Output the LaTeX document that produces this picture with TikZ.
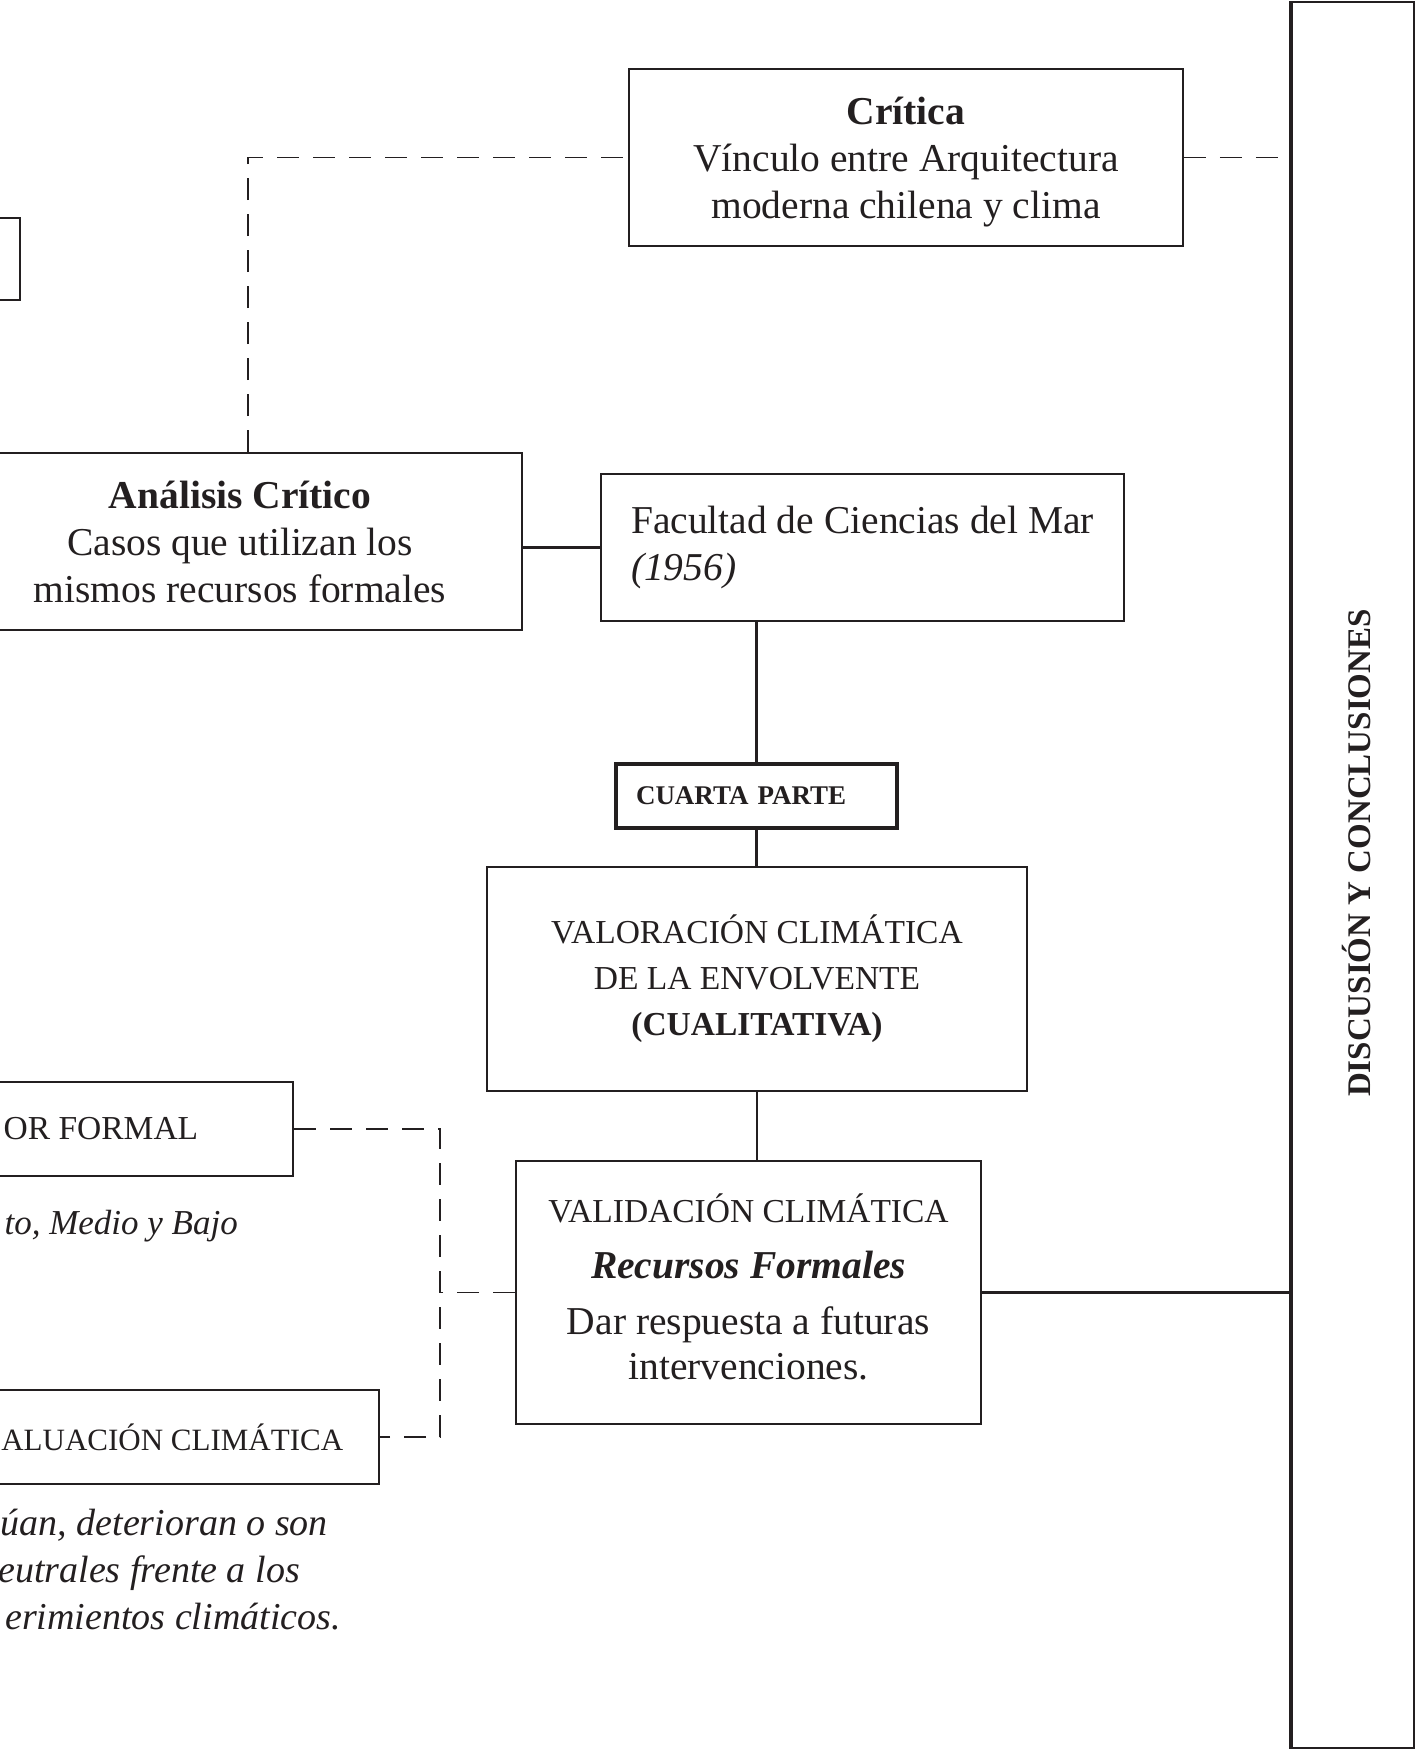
\documentclass[tikz,border=0pt]{standalone}
\usepackage{fontspec}
\setmainfont{Liberation Serif}
\definecolor{tinta}{HTML}{231F20}

\begin{document}
\begin{tikzpicture}[x=1pt,y=-1pt,
  caja/.style={draw=tinta,line width=1.6pt,text=tinta,inner sep=0pt,align=center,font=\fontsize{39.5}{47}\selectfont},
  mayus/.style={font=\fontsize{33.5}{46}\selectfont},
  unir/.style={draw=tinta,line width=2.6pt},
  guion/.style={draw=tinta,line width=1.5pt,dash pattern=on 22pt off 14pt},
  nota/.style={text=tinta,anchor=base east,inner sep=0pt,font=\fontsize{38}{47}\selectfont\itshape}]
\useasboundingbox (0,0) rectangle (1416,1754);
\clip (0,0) rectangle (1416,1754);
%\draw[help lines] (0,0) grid[step=100] (1416,1754);
\node[caja,minimum width=554pt,minimum height=177pt] (critica) at (906,157.5) {\rule{0pt}{36pt}\textbf{Crítica}\\Vínculo entre Arquitectura\\moderna chilena y clima};
\node[caja,minimum width=70pt,minimum height=82pt] (cajaIzq) at (-15,259) {};
\node[caja,minimum width=564pt,minimum height=177pt] (analisis) at (240,541.5) {\textbf{Análisis Crítico}\\Casos que utilizan los\\mismos recursos formales};
\node[caja,align=left,minimum width=523pt,minimum height=147pt] (facultad) at (862.5,547.5) {Facultad de Ciencias del Mar\\\textit{(1956)}};
\node[caja,line width=3.2pt,align=left,text width=241pt,inner xsep=20pt,minimum height=64pt,font=\fontsize{27}{32}\selectfont\bfseries] (cuarta) at (756.5,796) {CUARTA PARTE};
\node[caja,mayus,minimum width=540pt,minimum height=224pt] (valoracion) at (757,979) {VALORACIÓN CLIMÁTICA\\DE LA ENVOLVENTE\\\textbf{(CUALITATIVA)}};
\node[caja,font=\fontsize{39.5}{45}\selectfont,minimum width=465pt,minimum height=263pt] (validacion) at (748.5,1292.5) {{\fontsize{33.5}{45}\selectfont VALIDACIÓN CLIMÁTICA}\\[11pt]\textbf{\textit{Recursos Formales}}\\[11pt]Dar respuesta a futuras\\intervenciones.\rule[-12pt]{0pt}{0pt}};
\node[caja,minimum width=122pt,minimum height=1746pt] (discusion) at (1353,875) {};
\draw[tinta,line width=3.5pt] (discusion.north west) -- (discusion.south west);
\node[rotate=90,text=tinta,font=\fontsize{33}{40}\selectfont\bfseries] (discusionTxt) at (1356,853) {DISCUSIÓN Y CONCLUSIONES};
% cajas cortadas a la izquierda
\node[caja,mayus,anchor=east,inner xsep=95pt,minimum height=94pt] (orFormal) at (294,1129) {OR FORMAL};
\node[caja,font=\fontsize{31}{46}\selectfont,anchor=east,inner xsep=36pt,minimum height=94pt] (evalClim) at (380,1437) {ALUACIÓN CLIMÁTICA};
\node[nota,font=\fontsize{35}{47}\selectfont\itshape] (notaNivel) at (238,1234) {to, Medio y Bajo};
\node[nota] (notaA) at (328,1535) {úan, deterioran o son};
\node[nota] (notaB) at (300,1582) {eutrales frente a los};
\node[nota] (notaC) at (341,1629) {erimientos climáticos.};
\coordinate (esquina) at (248,157);
\coordinate (eje) at (440,1126);
\draw[guion] (analisis.north -| esquina) |- (critica.west);
\draw[guion] (critica.east) -- (critica.east -| discusion.west);
\draw[unir] (analisis.east |- facultad.west) -- (facultad.west);
\draw[unir] (cuarta.north) -- (cuarta.north |- facultad.south);
\draw[unir] (cuarta.south) -- (valoracion.north -| cuarta.south);
\draw[unir] (valoracion.south) -- (valoracion.south |- validacion.north);
\draw[unir] (validacion.east) -- (validacion.east -| discusion.west);
\draw[guion] (orFormal.east) -- (orFormal.east -| eje) -- (evalClim.east -| eje) -- (evalClim.east);
\draw[guion] (validacion.west) -- (validacion.west -| eje);
\end{tikzpicture}
\end{document}
